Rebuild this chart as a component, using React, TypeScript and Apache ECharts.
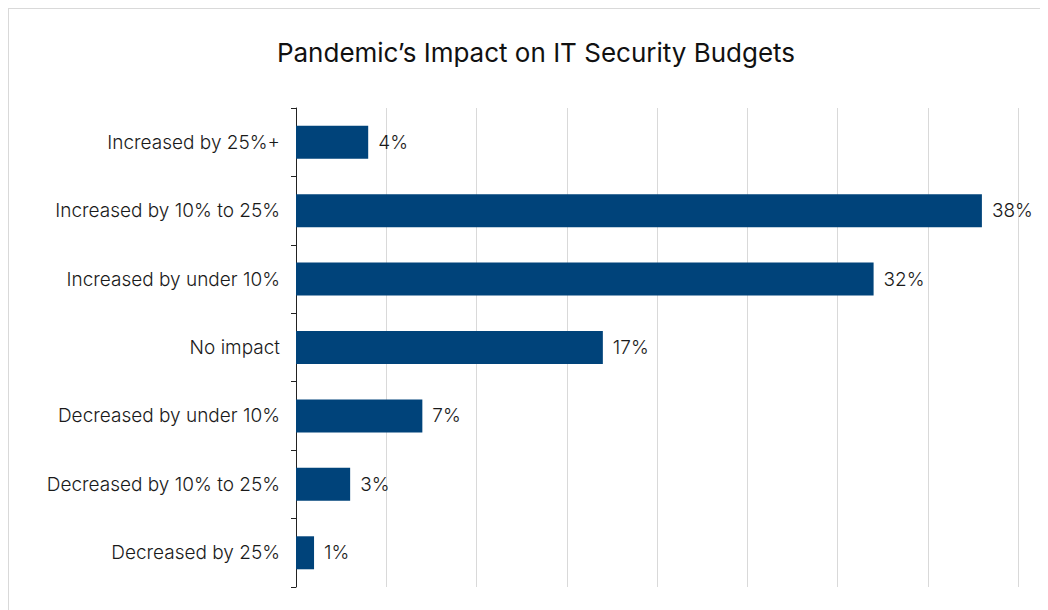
import React, { useEffect, useRef } from "react";
import * as echarts from "echarts";

const categories = [
  "Increased by 25%+",
  "Increased by 10% to 25%",
  "Increased by under 10%",
  "No impact",
  "Decreased by under 10%",
  "Decreased by 10% to 25%",
  "Decreased by 25%",
];
const values = [4, 38, 32, 17, 7, 3, 1];
const titleText = "Pandemic\u2019s Impact on IT Security Budgets";

export default function App() {
  const ref = useRef<HTMLDivElement>(null);
  useEffect(() => {
    if (!ref.current) return;
    const chart = echarts.init(ref.current, undefined, { renderer: "svg" });
    const font = "Inter, 'Noto Sans', sans-serif";
    chart.setOption({
      animation: false,
      backgroundColor: "#ffffff",
      graphic: [
        {
          type: "text",
          x: 527,
          y: 43,
          style: {
            text: titleText,
            fontFamily: font,
            fontSize: 26,
            fontWeight: 400,
            fill: "#111111",
            textAlign: "center",
            textVerticalAlign: "middle",
          },
        },
      ],
      grid: { left: 287, top: 99, right: 1039 - 1009, bottom: 601 - 578 },
      xAxis: {
        type: "value",
        min: 0,
        max: 40,
        interval: 5,
        axisLabel: { show: false },
        axisLine: { show: false },
        axisTick: { show: false },
        splitLine: { lineStyle: { color: "#d9d9d9", width: 1 } },
      },
      yAxis: {
        type: "category",
        inverse: true,
        data: categories,
        axisLine: { show: true, lineStyle: { color: "#222222", width: 1 } },
        axisTick: { show: true, length: 5, lineStyle: { color: "#222222" } },
        axisLabel: {
          margin: 16,
          fontFamily: font,
          fontSize: 19,
          fontWeight: 300,
          color: "#1a1a1a",
        },
      },
      series: [
        {
          type: "bar",
          data: values,
          barWidth: 33,
          itemStyle: { color: "#00437a" },
          label: {
            show: true,
            position: "right",
            distance: 10,
            formatter: "{c}%",
            fontFamily: font,
            fontSize: 19,
            fontWeight: 300,
            color: "#1a1a1a",
          },
        },
      ],
    });
    return () => chart.dispose();
  }, []);
  return (
    <div
      style={{
        width: 1039,
        height: 601,
        borderLeft: "1px solid #d9d9d9",
        borderTop: "1px solid #d9d9d9",
      }}
    >
      <div ref={ref} style={{ width: 1039, height: 601 }} />
    </div>
  );
}
